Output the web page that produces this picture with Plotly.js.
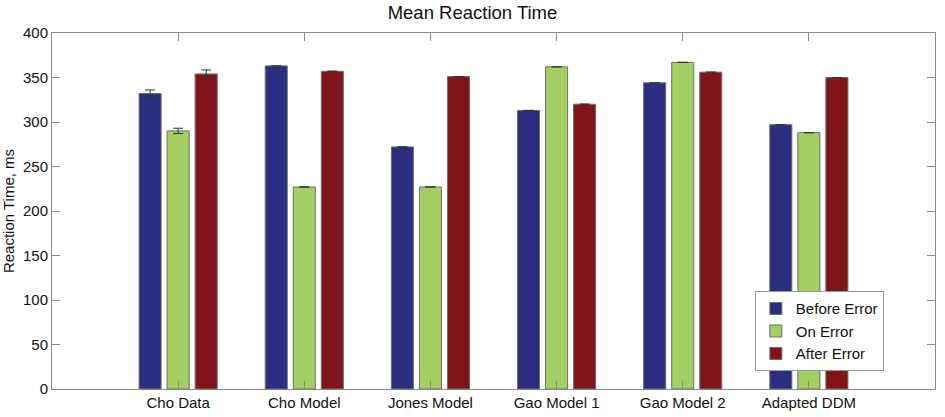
<!DOCTYPE html>
<html>
<head>
<meta charset="utf-8">
<script src="https://cdn.plot.ly/plotly-3.0.1.min.js"></script>
<style>
  html, body { margin: 0; padding: 0; background: #fff; }
  #chart { width: 945px; height: 417px; }
</style>
</head>
<body>
<div id="chart"></div>
<script>
// categories and series
var models = ['Cho Data', 'Cho Model', 'Jones Model', 'Gao Model 1', 'Gao Model 2', 'Adapted DDM'];
var beforeError = [332, 363, 272, 313, 344, 297];
var onError     = [290, 227, 227, 362, 367, 288];
var afterError  = [354, 357, 351, 320, 356, 350];
// standard errors (only the data has visible ones)
var beforeErr = [4, 0, 0, 0, 0, 0];
var onErr     = [3, 0, 0, 0, 0, 0];
var afterErr  = [4.5, 0, 0, 0, 0, 0];

function barTrace(name, vals, errs, color) {
  return {
    type: 'bar', name: name, x: models, y: vals,
    marker: { color: color, line: { color: '#6e6e6e', width: 1 } },
    error_y: { type: 'data', array: errs, visible: true, color: '#333', thickness: 1, width: 5 }
  };
}

var data = [
  barTrace('Before Error', beforeError, beforeErr, '#2b2d80'),
  barTrace('On Error', onError, onErr, '#a4cf62'),
  barTrace('After Error', afterError, afterErr, '#801418')
];

var fnt = { family: 'Liberation Sans, Arial, sans-serif', size: 15, color: '#111' };

var layout = {
  width: 945, height: 417,
  margin: { l: 52, r: 10, t: 33, b: 28 },
  paper_bgcolor: '#fff', plot_bgcolor: '#fff',
  font: fnt,
  title: { text: 'Mean Reaction Time', font: { family: fnt.family, size: 18.5, color: '#111' }, x: 0.5, xanchor: 'center', y: 0.985, yanchor: 'top' },
  barmode: 'group', bargap: 0.333, bargroupgap: 0.214,
  showlegend: true,
  legend: {
    x: 0.796, y: 0.05, xanchor: 'left', yanchor: 'bottom',
    bgcolor: '#fff', bordercolor: '#999', borderwidth: 1,
    font: { family: fnt.family, size: 15, color: '#111' },
    tracegroupgap: 0, itemwidth: 30
  },
  xaxis: {
    type: 'category', range: [-1, 6], autorange: false,
    showline: true, linecolor: '#8a8a8a', linewidth: 1, mirror: 'ticks',
    ticks: 'inside', ticklen: 8, tickcolor: '#8a8a8a',
    showgrid: false, zeroline: false, tickfont: fnt
  },
  yaxis: {
    range: [0, 400], autorange: false, dtick: 50,
    showline: true, linecolor: '#8a8a8a', linewidth: 1, mirror: 'ticks',
    ticks: 'inside', ticklen: 8, tickcolor: '#8a8a8a',
    showgrid: false, zeroline: false, tickfont: fnt,
    title: { text: 'Reaction Time, ms', font: fnt, standoff: 6 }
  }
};

Plotly.newPlot('chart', data, layout, { displayModeBar: false, staticPlot: true });
</script>
</body>
</html>
